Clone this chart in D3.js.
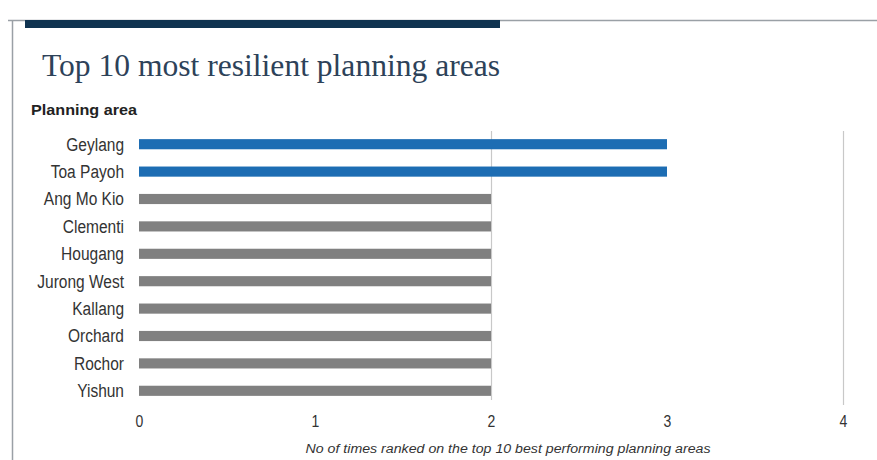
<!DOCTYPE html>
<html>
<head>
<meta charset="utf-8">
<script src="https://cdn.jsdelivr.net/npm/d3@7"></script>
<style>
  html, body { margin: 0; padding: 0; background: #fff; }
  svg { display: block; }
</style>
</head>
<body>
<svg id="chart" width="877" height="460"></svg>
<script>
// Planning areas and how often each ranked in the top 10
const areas = ["Geylang", "Toa Payoh", "Ang Mo Kio", "Clementi", "Hougang",
               "Jurong West", "Kallang", "Orchard", "Rochor", "Yishun"];
const counts = [3, 3, 2, 2, 2, 2, 2, 2, 2, 2];
const highlighted = ["Geylang", "Toa Payoh"];
const xTicks = [0, 1, 2, 3, 4];
const gridTicks = [2, 4];

const svg = d3.select("#chart");
const W = 877, H = 460;
const sans = "'Liberation Sans', Arial, sans-serif";

// Narrow the glyphs: measure natural width at a base size, then draw taller
// text squeezed back into that width.
function condense(sel, baseSize, drawSize) {
  sel.each(function () {
    const t = d3.select(this).attr("font-size", baseSize);
    const w = this.getComputedTextLength();
    t.attr("font-size", drawSize).attr("textLength", w).attr("lengthAdjust", "spacingAndGlyphs");
  });
}

// Panel frame
svg.append("line").attr("x1", 8).attr("x2", W).attr("y1", 20.5).attr("y2", 20.5)
  .attr("stroke", "#9aa0a6").attr("stroke-width", 1.5);
svg.append("line").attr("x1", 12.5).attr("x2", 12.5).attr("y1", 20).attr("y2", H)
  .attr("stroke", "#9aa0a6").attr("stroke-width", 1.5);
svg.append("rect").attr("x", 25).attr("y", 20).attr("width", 475).attr("height", 8)
  .attr("fill", "#0f3350");

// Title and axis heading
svg.append("text").attr("x", 42).attr("y", 76)
  .attr("font-family", "'Liberation Serif', 'DejaVu Serif', serif")
  .attr("font-size", 31).attr("fill", "#2d4259")
  .attr("textLength", 458).attr("lengthAdjust", "spacingAndGlyphs")
  .text("Top 10 most resilient planning areas");
svg.append("text").attr("x", 31).attr("y", 115)
  .attr("font-family", sans)
  .attr("font-weight", "bold").attr("font-size", 14).attr("fill", "#222")
  .attr("textLength", 106).attr("lengthAdjust", "spacingAndGlyphs")
  .text("Planning area");

const x = d3.scaleLinear().domain([0, 4]).range([139, 843]);
const y = d3.scaleBand().domain(areas).range([130.5, 404.5]).paddingInner(0.63).paddingOuter(0.315);

// Vertical gridlines
svg.append("g").selectAll("line").data(gridTicks).join("line")
  .attr("x1", d => x(d) + 0.5).attr("x2", d => x(d) + 0.5)
  .attr("y1", 131).attr("y2", d => d === 4 ? 405 : 400)
  .attr("stroke", "#c8c8c8").attr("stroke-width", 1.2);

// Bars
svg.append("g").selectAll("rect").data(areas).join("rect")
  .attr("x", x(0))
  .attr("y", d => y(d))
  .attr("width", (d, i) => x(counts[i]) - x(0))
  .attr("height", y.bandwidth())
  .attr("fill", d => highlighted.includes(d) ? "#1d6db3" : "#808080");

// Category axis
const yAxis = svg.append("g").attr("transform", `translate(${x(0)},0)`)
  .call(d3.axisLeft(y).tickSize(0).tickPadding(15));
yAxis.select(".domain").remove();
yAxis.selectAll("text")
  .attr("font-family", sans).attr("fill", "#333").attr("dy", "0.36em")
  .call(condense, 15.5, 18);

// Value axis
const xAxis = svg.append("g").attr("transform", "translate(0,409)")
  .call(d3.axisBottom(x).tickValues(xTicks).tickFormat(d3.format("d")).tickSize(0).tickPadding(6));
xAxis.select(".domain").remove();
xAxis.selectAll("text")
  .attr("font-family", sans).attr("fill", "#333")
  .call(condense, 14, 17);

svg.append("text").attr("x", 508).attr("y", 453).attr("text-anchor", "middle")
  .attr("font-family", sans)
  .attr("font-style", "italic").attr("font-size", 12.5).attr("fill", "#333")
  .attr("textLength", 405).attr("lengthAdjust", "spacingAndGlyphs")
  .text("No of times ranked on the top 10 best performing planning areas");
</script>
</body>
</html>
